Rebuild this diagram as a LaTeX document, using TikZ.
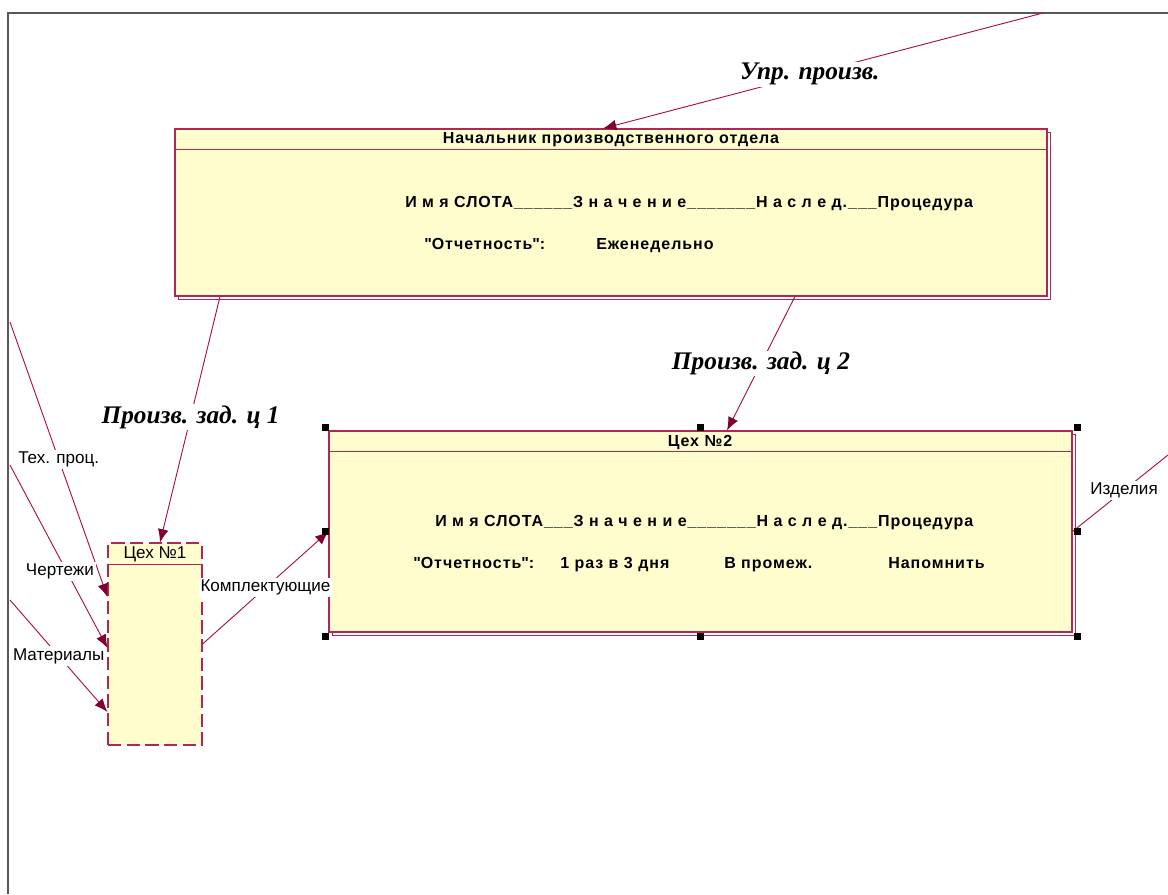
\documentclass[tikz,border=0pt]{standalone}
\usepackage{fontspec}
\setmainfont{Liberation Sans}
\newfontfamily\slotfont[LetterSpace=6]{Liberation Sans}
\newfontfamily\flowfont{Liberation Serif}
\usetikzlibrary{arrows.meta}
\definecolor{slotborder}{RGB}{178,38,86}
\definecolor{flowline}{RGB}{168,18,66}
\definecolor{tipred}{RGB}{130,0,45}
\definecolor{slotfill}{RGB}{255,252,206}
\definecolor{pagegray}{RGB}{88,88,88}
\tikzset{
  slotframe/.style={draw=slotborder, fill=slotfill, line width=0.8pt, inner sep=0pt},
  slotshadow/.style={draw=slotborder, fill=white, line width=0.6pt, inner sep=0pt},
  slottext/.style={font=\slotfont\fontsize{12}{14}\selectfont\bfseries, inner sep=0pt, anchor=base west},
  flow/.style={draw=flowline, line width=0.7pt, -{Latex[length=10pt,width=8pt,color=tipred]}},
  flowname/.style={font=\flowfont\fontsize{19}{21}\selectfont\bfseries\itshape, fill=white, inner sep=1pt},
  dataname/.style={font=\fontsize{12.8}{14}\selectfont, fill=white, inner sep=1.5pt}
}
\begin{document}
\begin{tikzpicture}[x=0.75pt, y=-0.75pt]
\useasboundingbox (0,0) rectangle (1168,894);
% page frame
\draw[pagegray, line width=1.5pt] (8,894) -- (8,13) -- (1168,13);

% boxes with shadow
\node[slotshadow, minimum width=654pt, minimum height=125.25pt] at (614,215.5) {};
\node[slotframe, minimum width=654pt, minimum height=125.25pt] (boss) at (611,212.5) {};
\draw[slotborder, line width=0.8pt] ([yshift=-15.75pt]boss.north west) -- ([yshift=-15.75pt]boss.north east);
\node[slotshadow, minimum width=557.25pt, minimum height=150.75pt] at (703.5,534.5) {};
\node[slotframe, minimum width=557.25pt, minimum height=150.75pt] (shop2) at (700.5,531.5) {};
\draw[slotborder, line width=0.8pt] ([yshift=-15.75pt]shop2.north west) -- ([yshift=-15.75pt]shop2.north east);
\node[slotframe, dash pattern=on 10pt off 4pt, minimum width=70.5pt, minimum height=151.5pt] (shop1) at (155,644) {};
\draw[slotborder, line width=0.8pt] ([yshift=-16.5pt]shop1.north west) -- ([yshift=-16.5pt]shop1.north east);

% slot texts
\node[slottext, anchor=center] (bosstitle) at (611,140) {Начальник производственного отдела};
\node[slottext] (bosshead) at (405,207) {И м я СЛОТА\_\_\_\_\_\_З н а ч е н и е\_\_\_\_\_\_\_Н а с л е д.\_\_\_Процедура};
\node[slottext] (bossrep) at (424,249) {\textquotedbl Отчетность\textquotedbl :};
\node[slottext] (bossval) at (596,249) {Еженедельно};
\node[slottext, anchor=center] (shop2title) at (700,442) {Цех №2};
\node[slottext] (shop2head) at (435,526) {И м я СЛОТА\_\_\_З н а ч е н и е\_\_\_\_\_\_\_Н а с л е д.\_\_\_Процедура};
\node[slottext] (shop2rep) at (413,568) {\textquotedbl Отчетность\textquotedbl :};
\node[slottext] (shop2val) at (560,568) {1 раз в 3 дня};
\node[slottext] (shop2inh) at (724,568) {В промеж.};
\node[slottext] (shop2proc) at (888,568) {Напомнить};
\node[font=\fontsize{12.8}{14}\selectfont, inner sep=0pt] (shop1title) at (155,554) {Цех №1};

% free ends
\coordinate (bossin) at (1043,13);
\coordinate (techin) at (10,322);
\coordinate (drawin) at (10,465);
\coordinate (matin) at (10,600);
\coordinate (prodout) at (1168,455);

% connectors
\draw[flow] (bossin) -- node[flowname, pos=0.53] {Упр. произв.} ([xshift=-6pt]boss.north);
\draw[flow] ([xshift=-293.25pt]boss.south) -- node[flowname, pos=0.49] {Произв. зад. ц 1} ([xshift=3.75pt]shop1.north);
\draw[flow] ([xshift=138pt]boss.south) -- node[flowname, pos=0.5] {Произв. зад. ц 2} ([xshift=19.9pt]shop2.north);
\draw[flow] (techin) -- node[dataname, pos=0.5] {Тех. проц.} ([yshift=35.25pt]shop1.west);
\draw[flow] (drawin) -- node[dataname, pos=0.58, xshift=-5pt] {Чертежи} ([yshift=-3pt]shop1.west);
\draw[flow] (matin) -- node[dataname, pos=0.5] {Материалы} ([yshift=-51pt]shop1.west);
\draw[flow] (shop1.east) -- node[dataname, pos=0.5] {Комплектующие} (shop2.west);
\draw[flow, -] (shop2.east) -- node[dataname, pos=0.54] {Изделия} (prodout);

% selection handles
\foreach \hx/\hy in {325/427, 700/427, 1077/427, 325/531, 1077/531, 325/636, 700/636, 1077/636}
  \fill (\hx-3.5,\hy-3.5) rectangle (\hx+3.5,\hy+3.5);
\end{tikzpicture}
\end{document}
